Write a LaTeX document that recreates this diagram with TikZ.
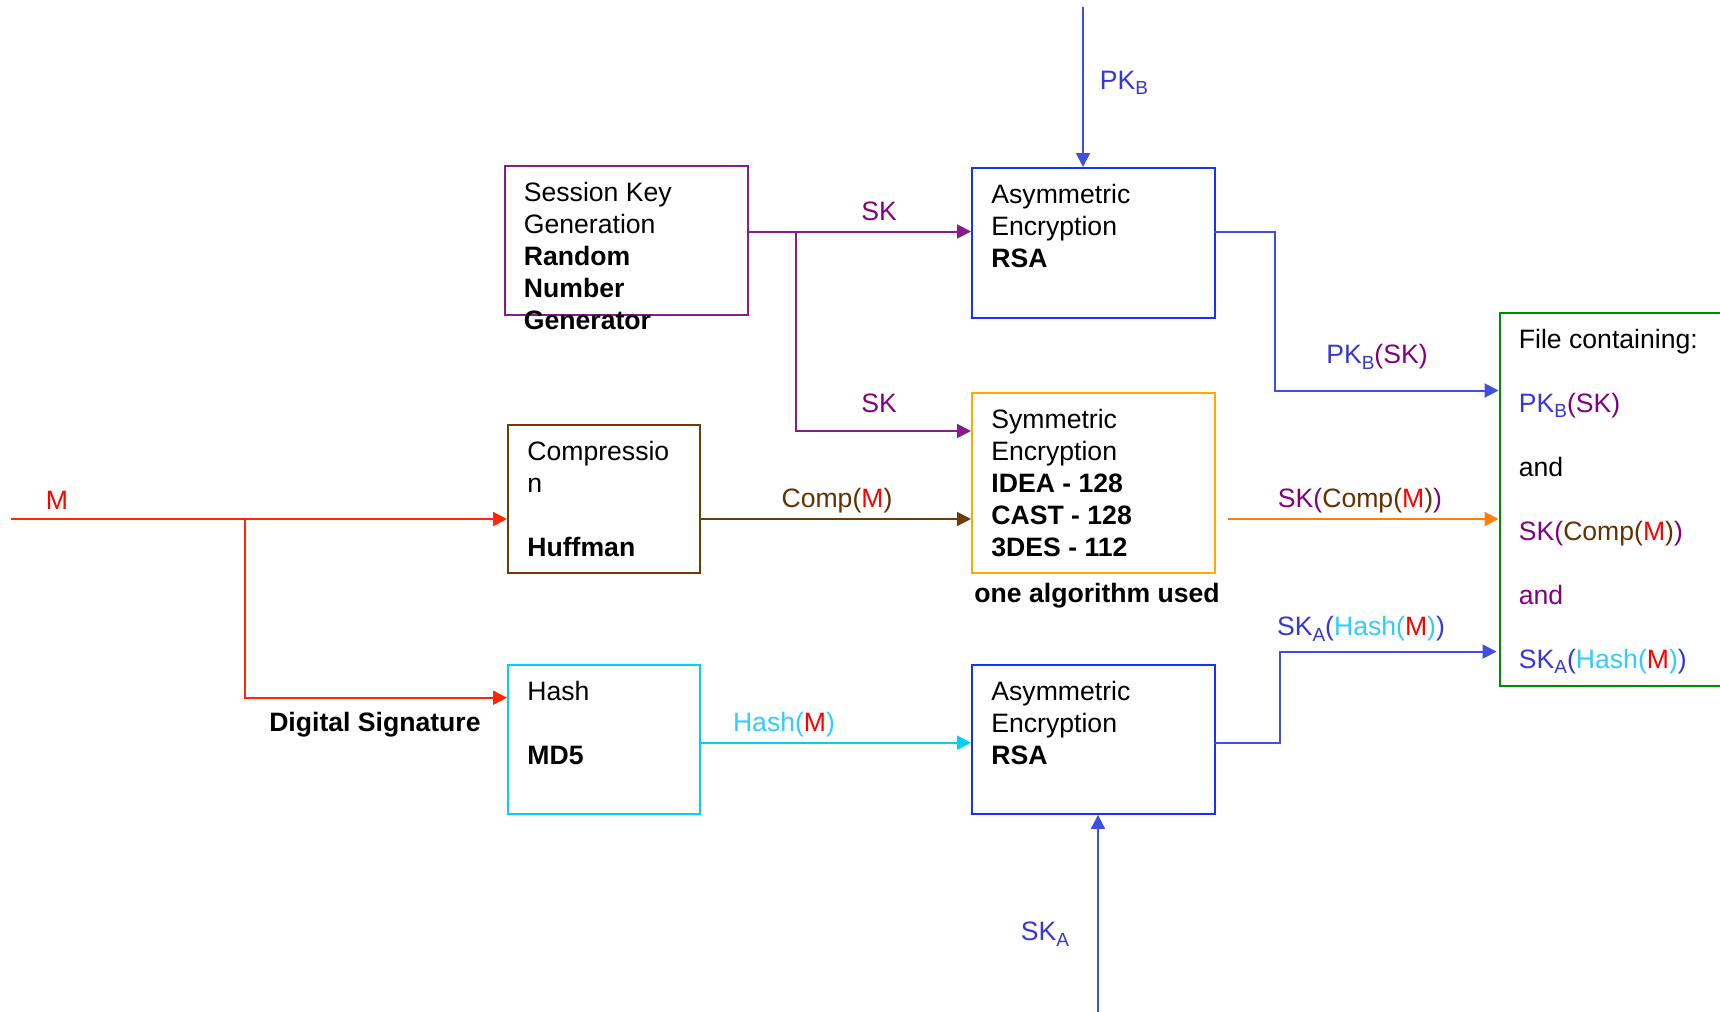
\documentclass[tikz,border=0pt]{standalone}
\usepackage{fontspec}
\setmainfont{Liberation Sans}
\usepackage{xcolor}
\usetikzlibrary{positioning,arrows.meta,calc}

\definecolor{skpurple}{RGB}{139,26,139}
\definecolor{sktext}{RGB}{128,0,128}
\definecolor{rsablue}{RGB}{20,50,250}
\definecolor{keyblue}{RGB}{65,80,220}
\definecolor{keytext}{RGB}{55,55,215}
\definecolor{symorange}{RGB}{255,170,0}
\definecolor{outorange}{RGB}{255,128,0}
\definecolor{compbrown}{RGB}{110,60,10}
\definecolor{comptext}{RGB}{100,50,0}
\definecolor{mred}{RGB}{255,40,0}
\definecolor{hashcyan}{RGB}{0,208,245}
\definecolor{hashtext}{RGB}{51,204,255}
\definecolor{filegreen}{RGB}{0,140,0}

\newcommand{\lowsub}[1]{\raisebox{-0.4ex}{\fontsize{9.5}{10}\selectfont #1}}
\newcommand{\msg}{\textcolor{red}{M}}
\newcommand{\pkb}{\textcolor{keytext}{PK\lowsub{B}}}
\newcommand{\ska}{\textcolor{keytext}{SK\lowsub{A}}}
\newcommand{\compm}{\textcolor{comptext}{Comp(}\msg\textcolor{comptext}{)}}
\newcommand{\hashm}{\textcolor{hashtext}{Hash(}\msg\textcolor{hashtext}{)}}
\newcommand{\pkbsk}{\pkb\textcolor{sktext}{(SK)}}
\newcommand{\skcomp}{\textcolor{sktext}{SK(}\compm\textcolor{sktext}{)}}
\newcommand{\skahash}{\ska\textcolor{keytext}{(}\hashm\textcolor{keytext}{)}}

\begin{document}
\begin{tikzpicture}[
    x=0.5pt, y=-0.5pt,
    >={Triangle[length=7pt,width=7pt]},
    box/.style={draw, line width=1pt, anchor=north west, inner sep=0pt},
    boxtext/.style={anchor=north west, align=left, inner sep=0pt,
                    font=\fontsize{13.3}{16}\selectfont},
    lbl/.style={inner sep=0pt, font=\fontsize{13.3}{16}\selectfont},
    conn/.style={line width=1pt},
  ]
    \useasboundingbox (0,0) rectangle (1720,1012);
    \fill[white] (0,0) rectangle (1720,1012);

    % boxes
    \node[box, draw=skpurple, minimum width=121.75pt, minimum height=74.6pt] (skgen) at (503.5,164.5) {};
    \node[box, draw=rsablue, minimum width=121.5pt, minimum height=75pt] (rsa1) at (971,167) {};
    \node[box, draw=symorange, minimum width=121.5pt, minimum height=90pt] (sym) at (971,391.6) {};
    \node[box, draw=compbrown, minimum width=96pt, minimum height=74pt] (comp) at (507,423.5) {};
    \node[box, draw=hashcyan, minimum width=96pt, minimum height=74.6pt] (hash) at (507,663.7) {};
    \node[box, draw=rsablue, minimum width=121.5pt, minimum height=74.6pt] (rsa2) at (971,663.7) {};
    \node[box, draw=filegreen, minimum width=113pt, minimum height=186.5pt] (file) at (1498.5,311.5) {};

    % box texts
    \node[boxtext] (skgen-txt) at ([shift={(10pt,-8.5pt)}]skgen.north west)
      {Session Key\\Generation\\\textbf{Random}\\\textbf{Number}\\\textbf{Generator}};
    \node[boxtext] (rsa1-txt) at ([shift={(10pt,-8.5pt)}]rsa1.north west)
      {Asymmetric\\Encryption\\\textbf{RSA}};
    \node[boxtext] (sym-txt) at ([shift={(10pt,-8.5pt)}]sym.north west)
      {Symmetric\\Encryption\\\textbf{IDEA - 128}\\\textbf{CAST - 128}\\\textbf{3DES - 112}};
    \node[boxtext] (comp-txt) at ([shift={(10pt,-8.5pt)}]comp.north west)
      {Compressio\\n\\[16pt]\textbf{Huffman}};
    \node[boxtext] (hash-txt) at ([shift={(10pt,-8.5pt)}]hash.north west)
      {Hash\\[16pt]\textbf{MD5}};
    \node[boxtext] (rsa2-txt) at ([shift={(10pt,-8.5pt)}]rsa2.north west)
      {Asymmetric\\Encryption\\\textbf{RSA}};
    \node[boxtext, font=\fontsize{13.3}{32}\selectfont] (file-txt) at ([shift={(10pt,-8.5pt)}]file.north west)
      {File containing:\\\pkbsk\\and\\\skcomp\\\textcolor{sktext}{and}\\\skahash};

    % rows and free ends
    \coordinate (skrow) at (0,231.5);
    \coordinate (sk2row) at (0,431);
    \coordinate (pkrow) at (0,390.5);
    \coordinate (mrow) at (0,519);
    \coordinate (sigrow) at (0,651.6);
    \coordinate (hashrow) at (0,697.7);
    \coordinate (hmrow) at (0,742.7);
    \coordinate (pkb-in) at (1083,7);
    \coordinate (ska-in) at (1098,1012);
    \coordinate (m-in) at (11,519);
    \coordinate (m-split) at (244.6,519);
    \coordinate (sk-split) at (796.4,231.5);

    % connectors
    \draw[->, conn, keyblue] (pkb-in) -- (pkb-in |- rsa1.north);
    \draw[->, conn, keyblue] (ska-in) -- (ska-in |- rsa2.south);
    \draw[->, conn, skpurple] (skgen.east |- skrow) -- (rsa1.west |- skrow);
    \draw[->, conn, skpurple] (sk-split) |- (sym.west |- sk2row);
    \draw[->, conn, keyblue] ([xshift=-1pt]rsa1.east |- skrow) -- ++(30.5pt,0) |- (file.west |- pkrow);
    \draw[->, conn, mred] (m-in) -- (comp.west |- mrow);
    \draw[->, conn, mred] (m-split) |- (hash.west |- hashrow);
    \draw[->, conn, compbrown] (comp.east |- mrow) -- (sym.west |- mrow);
    \draw[->, conn, outorange] ([xshift=6pt]sym.east |- mrow) -- (file.west |- mrow);
    \draw[->, conn, hashcyan] (hash.east |- hmrow) -- (rsa2.west |- hmrow);
    \draw[->, conn, keyblue] ([xshift=-1pt]rsa2.east |- hmrow) -- ++(33pt,0) |- ([xshift=-1pt]file.west |- sigrow);

    % labels
    \node[lbl] (pkb-lbl) at (1124,83) {\pkb};
    \node[lbl, text=sktext] (sk1-lbl) at (879,211) {SK};
    \node[lbl, text=sktext] (sk2-lbl) at (879,403) {SK};
    \node[lbl] (pkbsk-lbl) at (1377,357) {\pkbsk};
    \node[lbl, text=red] (m-lbl) at (57,500) {M};
    \node[lbl] (compm-lbl) at (837,501) {\compm};
    \node[lbl] (skcomp-lbl) at (1360,501) {\skcomp};
    \node[lbl, anchor=west, font=\fontsize{13.3}{16}\selectfont\bfseries] (algo-lbl) at (974,596) {one algorithm used};
    \node[lbl] (skahash-lbl) at (1361,629) {\skahash};
    \node[lbl, anchor=east, font=\fontsize{13.3}{16}\selectfont\bfseries] (sig-lbl) at (481,724.5) {Digital Signature};
    \node[lbl] (hashm-lbl) at (784,725) {\hashm};
    \node[lbl] (ska-lbl) at (1045,934) {\ska};
  \end{tikzpicture}
\end{document}
